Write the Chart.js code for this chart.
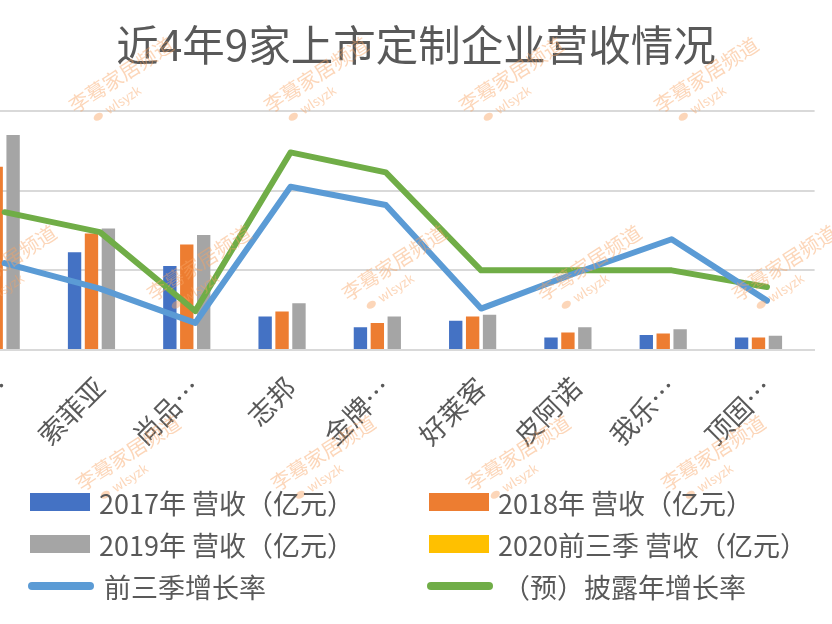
<!DOCTYPE html>
<html><head><meta charset="utf-8">
<script src="https://cdn.jsdelivr.net/npm/chart.js@4.4.1/dist/chart.umd.min.js"></script>
<style>
html,body{margin:0;padding:0;background:#fff;}
#wrap{position:relative;width:832px;height:624px;overflow:hidden;background:#fff;}
#box{position:absolute;left:-120px;top:0;width:1072px;height:624px;}
#legend{position:absolute;left:30px;top:481px;display:grid;grid-template-columns:399px 400px;grid-auto-rows:42px;
  font-family:"Noto Sans CJK SC","Noto Sans",sans-serif;font-size:27px;color:#595959;}
.item{display:flex;align-items:center;white-space:nowrap;}
.mk{flex:none;margin-right:9px;}
</style></head>
<body>
<div id="wrap">
  <div id="box"><canvas id="c"></canvas></div>
  <div id="legend"></div>
</div>
<script>
const categories = ['欧派…','索菲亚','尚品…','志邦','金牌…','好莱客','皮阿诺','我乐…','顶固…'];
const rev2017 = [97, 61.3, 52.7, 21.0, 14.2, 18.3, 7.9, 9.4, 7.9];
const rev2018 = [115, 73.1, 66.2, 24.2, 16.9, 21.0, 11.0, 10.4, 7.9];
const rev2019 = [135, 76.3, 72.1, 29.4, 21.0, 22.1, 14.2, 13.1, 8.9];
const rev2020Q3 = [null, null, null, null, null, null, null, null, null];
const growthQ3 = [0.109, 0.077, 0.034, 0.205, 0.182, 0.052, 0.097, 0.139, 0.062];
const growthYear = [0.173, 0.148, 0.049, 0.248, 0.223, 0.10, 0.10, 0.10, 0.079];
const revTicks = [0, 50, 100, 150];
const rateTicks = [0, 0.1, 0.2, 0.3];

const FONT = '"Noto Sans CJK SC","Noto Sans",sans-serif';
const OFF = 120;

const watermark = {
  id: 'watermark',
  afterDraw(chart) {
    const ctx = chart.ctx;
    const spots = [];
    [75, 270, 465, 660].forEach(x => spots.push([x, 114]));
    [-42, 153, 348, 543, 738].forEach(x => spots.push([x, 302]));
    [82, 277, 472, 667].forEach(x => spots.push([x, 492]));
    ctx.save();
    spots.forEach(([x, y]) => {
      ctx.save();
      ctx.translate(x + OFF, y);
      ctx.rotate(-33 * Math.PI / 180);
      ctx.fillStyle = 'rgba(248,165,100,0.45)';
      ctx.font = '20px ' + FONT;
      ctx.textBaseline = 'alphabetic';
      ctx.fillText('李蓦家居频道', 0, 0);
      ctx.font = '13px ' + FONT;
      ctx.fillText('wlsyzk', 28, 19);
      ctx.beginPath();
      ctx.ellipse(18, 15, 5, 3.5, 0, 0, Math.PI * 2);
      ctx.fill();
      ctx.restore();
    });
    ctx.restore();
  }
};

const chart = new Chart(document.getElementById('c'), {
  type: 'bar',
  data: {
    labels: categories,
    datasets: [
      {label: '2017年 营收（亿元）', data: rev2017, backgroundColor: '#4472C4', order: 1, yAxisID: 'y'},
      {label: '2018年 营收（亿元）', data: rev2018, backgroundColor: '#ED7D31', order: 1, yAxisID: 'y'},
      {label: '2019年 营收（亿元）', data: rev2019, backgroundColor: '#A5A5A5', order: 1, yAxisID: 'y'},
      {label: '2020前三季 营收（亿元）', data: rev2020Q3, backgroundColor: '#FFC000', order: 1, yAxisID: 'y'},
      {type: 'line', label: '前三季增长率', data: growthQ3, borderColor: '#5B9BD5', backgroundColor: '#5B9BD5',
        borderWidth: 6, pointRadius: 0, tension: 0, order: 0, yAxisID: 'y1', borderCapStyle: 'round', borderJoinStyle: 'round'},
      {type: 'line', label: '（预）披露年增长率', data: growthYear, borderColor: '#70AD47', backgroundColor: '#70AD47',
        borderWidth: 6, pointRadius: 0, tension: 0, order: 0, yAxisID: 'y1', borderCapStyle: 'round', borderJoinStyle: 'round'}
    ]
  },
  options: {
    responsive: true,
    maintainAspectRatio: false,
    animation: false,
    layout: {padding: 0},
    datasets: {bar: {categoryPercentage: 0.71, barPercentage: 0.79}},
    plugins: {
      legend: {display: false},
      tooltip: {enabled: false},
      title: {display: true, text: '近4年9家上市定制企业营收情况', color: '#595959',
        font: {family: FONT, size: 42.5, weight: 'normal', lineHeight: 1.2}, padding: {top: 19, bottom: 41}}
    },
    scales: {
      x: {
        grid: {display: false},
        border: {color: '#d9d9d9', width: 2},
        ticks: {color: '#595959', font: {family: FONT, size: 27}, minRotation: 45, maxRotation: 45, autoSkip: false, padding: 13},
        afterFit(s) { s.height = 274; }
      },
      y: {
        position: 'left', min: revTicks[0], max: revTicks[revTicks.length - 1],
        afterBuildTicks(s) { s.ticks = revTicks.map(v => ({value: v})); },
        grid: {color: '#d9d9d9', lineWidth: 2, drawTicks: false},
        border: {display: false},
        ticks: {color: '#595959', font: {family: FONT, size: 20}},
        afterFit(s) { s.width = 77; }
      },
      y1: {
        position: 'right', min: rateTicks[0], max: rateTicks[rateTicks.length - 1],
        afterBuildTicks(s) { s.ticks = rateTicks.map(v => ({value: v})); },
        grid: {display: false},
        border: {display: false},
        ticks: {color: '#bfbfbf', padding: 18, font: {family: FONT, size: 20}, callback: v => Math.round(v * 100) + '%'},
        afterFit(s) { s.width = 137.4; }
      }
    }
  },
  plugins: [watermark]
});

const lg = document.getElementById('legend');
chart.data.datasets.forEach(ds => {
  const it = document.createElement('div');
  it.className = 'item';
  const mk = document.createElement('span');
  mk.className = 'mk';
  if (ds.type === 'line') {
    mk.style.cssText = 'width:66px;height:8px;border-radius:4px;background:' + ds.borderColor + ';margin-left:-2px;margin-right:10px;';
  } else {
    mk.style.cssText = 'width:60px;height:18px;background:' + ds.backgroundColor + ';';
  }
  const tx = document.createElement('span');
  tx.textContent = ds.label;
  it.appendChild(mk); it.appendChild(tx);
  lg.appendChild(it);
});
</script>
</body></html>
